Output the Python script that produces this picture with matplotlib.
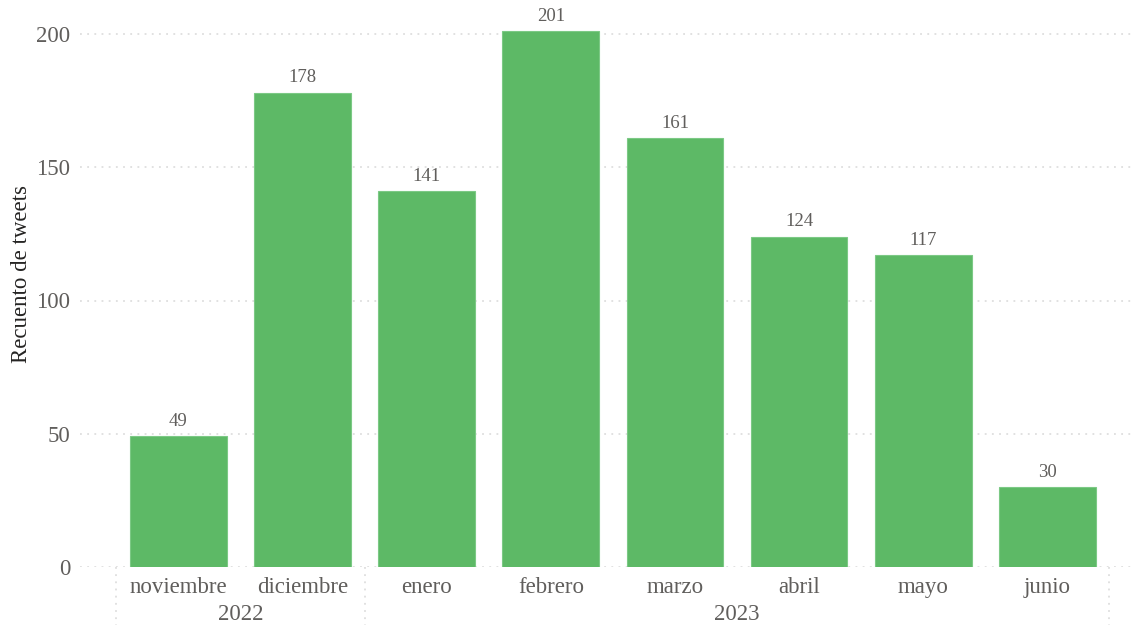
import matplotlib
matplotlib.use("Agg")
import matplotlib.pyplot as plt
from matplotlib.transforms import blended_transform_factory

months = ["noviembre", "diciembre", "enero", "febrero", "marzo", "abril", "mayo", "junio"]
counts = [49, 178, 141, 201, 161, 124, 117, 30]
years = ["2022", "2023"]
year_spans = [(0, 1), (2, 7)]  # first and last month index of each year
y_ticks = [0, 50, 100, 150, 200]

BAR_COLOR = "#5DB966"
TEXT_COLOR = "#605E5C"
GRID_COLOR = "#D9D9D9"

plt.rcParams["font.family"] = ["Liberation Serif", "DejaVu Serif"]

fig = plt.figure(figsize=(11.36, 6.25), dpi=100)
ax = fig.add_axes([80 / 1136, 1 - 567 / 625, (1133 - 80) / 1136, 567 / 625])

x = list(range(len(months)))
bars = ax.bar(x, counts, width=0.78, color=BAR_COLOR, edgecolor="#7CC985",
              linewidth=0.8, zorder=3)

for xi, v in zip(x, counts):
    ax.annotate(str(v), (xi, v), xytext=(0, 4.5), textcoords="offset points",
                ha="center", va="bottom", fontsize=13.5, color=TEXT_COLOR)

ax.set_ylim(0, 200 * 567 / 533)
ax.set_xlim(-0.793, 7.69)

ax.set_yticks(y_ticks)
ax.set_yticklabels([str(t) for t in y_ticks], fontsize=16.5, color=TEXT_COLOR)
ax.tick_params(axis="y", length=0, pad=7)
ax.set_xticks(x)
ax.set_xticklabels(months, fontsize=16.5, color=TEXT_COLOR)
ax.tick_params(axis="x", length=0, pad=7)

for t in y_ticks:
    ax.axhline(t, color=GRID_COLOR, linestyle=(0, (1.2, 3.5)), linewidth=1.1,
               zorder=1)

for s in ax.spines.values():
    s.set_visible(False)

ax.set_ylabel("Recuento de tweets", fontsize=16.5, color="#252423")
ax.yaxis.set_label_coords(-0.0456, 0.516)

# Year grouping row beneath the month labels
trans = blended_transform_factory(ax.transData, ax.transAxes)
boundaries = [-0.5, 1.5, 7.5]
for b in boundaries:
    ax.plot([b, b], [0, -0.12], transform=trans, color=GRID_COLOR,
            linestyle=(0, (1.2, 3.5)), linewidth=1.1, clip_on=False)

for label, (a, b) in zip(years, year_spans):
    ax.text((a + b) / 2, -0.083, label, transform=trans, ha="center",
            va="center", fontsize=16.5, color=TEXT_COLOR)

fig.savefig("out.png", dpi=100, facecolor="white")
